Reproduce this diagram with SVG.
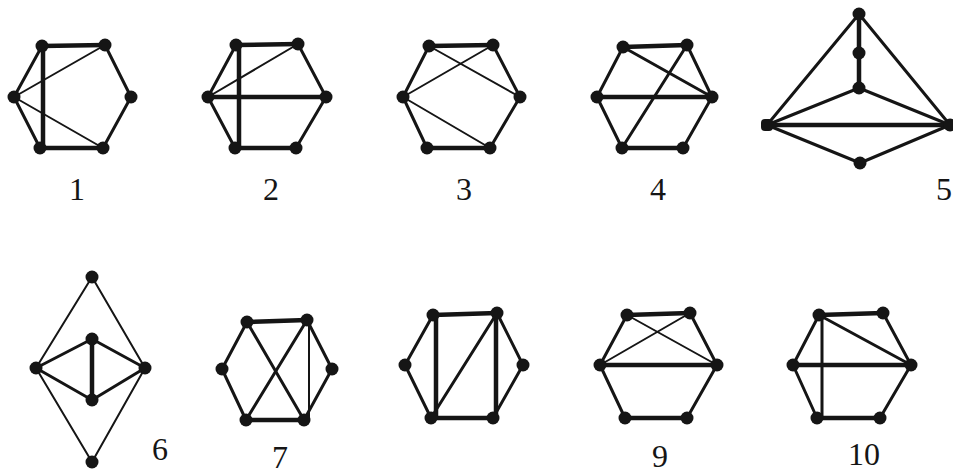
<svg xmlns="http://www.w3.org/2000/svg" width="953" height="475" viewBox="0 0 953 475">
<style>
.e{stroke:#151515;stroke-width:3;stroke-linecap:round;fill:none}
.t{stroke:#151515;stroke-width:4.5;stroke-linecap:round;fill:none}
.h{stroke:#151515;stroke-width:2;stroke-linecap:round;fill:none}
.n{fill:#151515}
.lb{font-family:"Liberation Serif","Times New Roman",serif;font-size:32px;fill:#151515;text-anchor:middle}
</style>
<rect width="953" height="475" fill="#ffffff"/>
<g id="connectors">
<!-- graph 1 -->
<line class="t" x1="42" y1="46" x2="105" y2="45"/>
<line class="e" x1="105" y1="45" x2="131" y2="97"/>
<line class="e" x1="131" y1="97" x2="103" y2="148"/>
<line class="t" x1="103" y1="148" x2="40" y2="148"/>
<line class="e" x1="40" y1="148" x2="14" y2="97"/>
<line class="e" x1="14" y1="97" x2="42" y2="46"/>
<line class="t" x1="43" y1="46" x2="43" y2="148"/>
<line class="h" x1="14" y1="97" x2="105" y2="45"/>
<line class="h" x1="14" y1="97" x2="103" y2="148"/>
<!-- graph 2 -->
<line class="t" x1="236" y1="45" x2="298" y2="44"/>
<line class="e" x1="298" y1="44" x2="326" y2="97"/>
<line class="e" x1="326" y1="97" x2="296" y2="148"/>
<line class="t" x1="296" y1="148" x2="235" y2="148"/>
<line class="e" x1="235" y1="148" x2="208" y2="97"/>
<line class="e" x1="208" y1="97" x2="236" y2="45"/>
<line class="t" x1="239" y1="45" x2="239" y2="148"/>
<line class="t" x1="208" y1="97" x2="326" y2="97"/>
<line class="h" x1="208" y1="97" x2="298" y2="44"/>
<!-- graph 3 -->
<line class="t" x1="429" y1="46" x2="493" y2="45"/>
<line class="e" x1="493" y1="45" x2="520" y2="97"/>
<line class="e" x1="520" y1="97" x2="490" y2="148"/>
<line class="t" x1="490" y1="148" x2="427" y2="148"/>
<line class="e" x1="427" y1="148" x2="403" y2="97"/>
<line class="e" x1="403" y1="97" x2="429" y2="46"/>
<line class="h" x1="429" y1="46" x2="520" y2="97"/>
<line class="h" x1="493" y1="45" x2="403" y2="97"/>
<line class="h" x1="403" y1="97" x2="490" y2="148"/>
<!-- graph 4 -->
<line class="t" x1="623" y1="47" x2="687" y2="45"/>
<line class="e" x1="687" y1="45" x2="712" y2="97"/>
<line class="e" x1="712" y1="97" x2="683" y2="148"/>
<line class="t" x1="683" y1="148" x2="622" y2="148"/>
<line class="e" x1="622" y1="148" x2="597" y2="97"/>
<line class="e" x1="597" y1="97" x2="623" y2="47"/>
<line class="e" x1="623" y1="47" x2="712" y2="97"/>
<line class="t" x1="597" y1="97" x2="712" y2="97"/>
<line class="e" x1="687" y1="45" x2="622" y2="148"/>
<!-- graph 5 -->
<line class="t" x1="859" y1="14" x2="859" y2="88"/>
<line class="e" x1="859" y1="14" x2="767" y2="125"/>
<line class="e" x1="859" y1="14" x2="950" y2="125"/>
<line class="e" x1="859" y1="88" x2="767" y2="125"/>
<line class="e" x1="859" y1="88" x2="950" y2="125"/>
<line class="t" x1="767" y1="125" x2="950" y2="125"/>
<line class="e" x1="767" y1="125" x2="860" y2="163"/>
<line class="e" x1="860" y1="163" x2="950" y2="125"/>
<!-- graph 6 -->
<line class="h" x1="92" y1="277" x2="36" y2="368"/>
<line class="h" x1="92" y1="277" x2="145" y2="368"/>
<line class="h" x1="36" y1="368" x2="92" y2="462"/>
<line class="h" x1="145" y1="368" x2="92" y2="462"/>
<line class="e" x1="36" y1="368" x2="92" y2="339"/>
<line class="e" x1="36" y1="368" x2="92" y2="400"/>
<line class="e" x1="145" y1="368" x2="92" y2="339"/>
<line class="e" x1="145" y1="368" x2="92" y2="400"/>
<line class="t" x1="92" y1="339" x2="92" y2="400"/>
<!-- graph 7 -->
<line class="t" x1="247" y1="322" x2="307" y2="320"/>
<line class="e" x1="307" y1="320" x2="332" y2="369"/>
<line class="e" x1="332" y1="369" x2="304" y2="420"/>
<line class="t" x1="304" y1="420" x2="246" y2="420"/>
<line class="e" x1="246" y1="420" x2="222" y2="369"/>
<line class="e" x1="222" y1="369" x2="247" y2="322"/>
<line class="e" x1="247" y1="322" x2="304" y2="420"/>
<line class="e" x1="307" y1="320" x2="246" y2="420"/>
<line class="h" x1="309" y1="320" x2="309" y2="420"/>
<!-- graph 8 -->
<line class="t" x1="433" y1="315" x2="497" y2="313"/>
<line class="e" x1="497" y1="313" x2="523" y2="365"/>
<line class="e" x1="523" y1="365" x2="493" y2="418"/>
<line class="t" x1="493" y1="418" x2="431" y2="418"/>
<line class="e" x1="431" y1="418" x2="405" y2="365"/>
<line class="e" x1="405" y1="365" x2="433" y2="315"/>
<line class="t" x1="436" y1="315" x2="436" y2="418"/>
<line class="t" x1="496" y1="313" x2="496" y2="418"/>
<line class="e" x1="497" y1="313" x2="431" y2="418"/>
<!-- graph 9 -->
<line class="t" x1="627" y1="315" x2="690" y2="313"/>
<line class="e" x1="690" y1="313" x2="717" y2="365"/>
<line class="e" x1="717" y1="365" x2="687" y2="418"/>
<line class="t" x1="687" y1="418" x2="625" y2="418"/>
<line class="e" x1="625" y1="418" x2="600" y2="365"/>
<line class="e" x1="600" y1="365" x2="627" y2="315"/>
<line class="h" x1="627" y1="315" x2="717" y2="365"/>
<line class="h" x1="690" y1="313" x2="600" y2="365"/>
<line class="t" x1="600" y1="365" x2="717" y2="365"/>
<!-- graph 10 -->
<line class="t" x1="819" y1="315" x2="883" y2="313"/>
<line class="e" x1="883" y1="313" x2="911" y2="365"/>
<line class="e" x1="911" y1="365" x2="880" y2="418"/>
<line class="t" x1="880" y1="418" x2="817" y2="418"/>
<line class="e" x1="817" y1="418" x2="793" y2="365"/>
<line class="e" x1="793" y1="365" x2="819" y2="315"/>
<line class="e" x1="822" y1="315" x2="822" y2="418"/>
<line class="e" x1="819" y1="315" x2="911" y2="365"/>
<line class="t" x1="793" y1="365" x2="911" y2="365"/>
</g>
<g id="graph1">
<circle class="n" cx="42" cy="46" r="6.5"/><circle class="n" cx="105" cy="45" r="6.5"/>
<circle class="n" cx="14" cy="97" r="6.5"/><circle class="n" cx="131" cy="97" r="6.5"/>
<circle class="n" cx="40" cy="148" r="6.5"/><circle class="n" cx="103" cy="148" r="6.5"/>
<text class="lb" x="77" y="200">1</text>
</g>
<g id="graph2">
<circle class="n" cx="236" cy="45" r="6.5"/><circle class="n" cx="298" cy="44" r="6.5"/>
<circle class="n" cx="208" cy="97" r="6.5"/><circle class="n" cx="326" cy="97" r="6.5"/>
<circle class="n" cx="235" cy="148" r="6.5"/><circle class="n" cx="296" cy="148" r="6.5"/>
<text class="lb" x="271" y="200">2</text>
</g>
<g id="graph3">
<circle class="n" cx="429" cy="46" r="6.5"/><circle class="n" cx="493" cy="45" r="6.5"/>
<circle class="n" cx="403" cy="97" r="6.5"/><circle class="n" cx="520" cy="97" r="6.5"/>
<circle class="n" cx="427" cy="148" r="6.5"/><circle class="n" cx="490" cy="148" r="6.5"/>
<text class="lb" x="464" y="200">3</text>
</g>
<g id="graph4">
<circle class="n" cx="623" cy="47" r="6.5"/><circle class="n" cx="687" cy="45" r="6.5"/>
<circle class="n" cx="597" cy="97" r="6.5"/><circle class="n" cx="712" cy="97" r="6.5"/>
<circle class="n" cx="622" cy="148" r="6.5"/><circle class="n" cx="683" cy="148" r="6.5"/>
<text class="lb" x="658" y="200">4</text>
</g>
<g id="graph5">
<circle class="n" cx="859" cy="14" r="6.5"/><circle class="n" cx="859" cy="53" r="6.5"/>
<circle class="n" cx="859" cy="88" r="6.5"/><rect class="n" x="761" y="119" width="12" height="12" rx="4"/>
<circle class="n" cx="950" cy="125" r="6.5"/><circle class="n" cx="860" cy="163" r="6.5"/>
<text class="lb" x="944" y="200">5</text>
</g>
<g id="graph6">
<circle class="n" cx="92" cy="277" r="6.5"/><circle class="n" cx="92" cy="339" r="6.5"/>
<circle class="n" cx="36" cy="368" r="6.5"/><circle class="n" cx="145" cy="368" r="6.5"/>
<circle class="n" cx="92" cy="400" r="6.5"/><circle class="n" cx="92" cy="462" r="6.5"/>
<text class="lb" x="160" y="460">6</text>
</g>
<g id="graph7">
<circle class="n" cx="247" cy="322" r="6.5"/><circle class="n" cx="307" cy="320" r="6.5"/>
<circle class="n" cx="222" cy="369" r="6.5"/><circle class="n" cx="332" cy="369" r="6.5"/>
<circle class="n" cx="246" cy="420" r="6.5"/><circle class="n" cx="304" cy="420" r="6.5"/>
<text class="lb" x="280" y="468">7</text>
</g>
<g id="graph8">
<circle class="n" cx="433" cy="315" r="6.5"/><circle class="n" cx="497" cy="313" r="6.5"/>
<circle class="n" cx="405" cy="365" r="6.5"/><circle class="n" cx="523" cy="365" r="6.5"/>
<circle class="n" cx="431" cy="418" r="6.5"/><circle class="n" cx="493" cy="418" r="6.5"/>
</g>
<g id="graph9">
<circle class="n" cx="627" cy="315" r="6.5"/><circle class="n" cx="690" cy="313" r="6.5"/>
<circle class="n" cx="600" cy="365" r="6.5"/><circle class="n" cx="717" cy="365" r="6.5"/>
<circle class="n" cx="625" cy="418" r="6.5"/><circle class="n" cx="687" cy="418" r="6.5"/>
<text class="lb" x="660" y="467">9</text>
</g>
<g id="graph10">
<circle class="n" cx="819" cy="315" r="6.5"/><circle class="n" cx="883" cy="313" r="6.5"/>
<circle class="n" cx="793" cy="365" r="6.5"/><circle class="n" cx="911" cy="365" r="6.5"/>
<circle class="n" cx="817" cy="418" r="6.5"/><circle class="n" cx="880" cy="418" r="6.5"/>
<text class="lb" x="864" y="465">10</text>
</g>
</svg>
